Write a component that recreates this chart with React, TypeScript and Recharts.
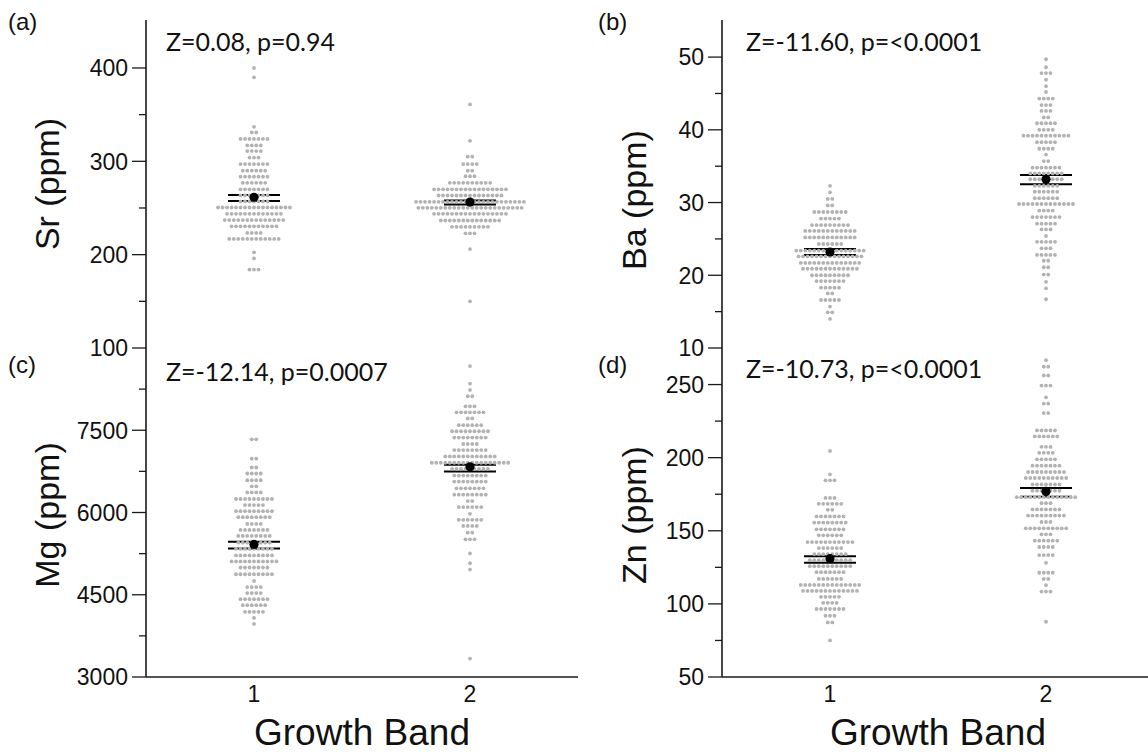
import React from 'react';
import { ScatterChart, Scatter, XAxis, YAxis, ErrorBar } from 'recharts';

// each row of the beeswarm: [value (ppm), number of samples in that bin]
type Row = [number, number];

const bands = [1, 2];

const srBand1: Row[] = [
  [400, 1], [390, 1], [337, 1], [331, 2], [324, 7], [317, 4], [311, 4], [304, 3], [297, 7], [290, 6],
  [283.5, 7], [277, 6], [270, 7], [263.5, 7], [257, 7], [250.5, 17], [243.7, 13], [237, 14], [230.4, 11],
  [223.3, 4], [216.9, 12], [202.5, 1], [196, 1], [184, 3],
];
const srBand2: Row[] = [
  [361, 1], [322, 1], [305, 2], [297, 4], [290, 2], [284, 3], [277, 10], [270, 17], [263.4, 15],
  [256.6, 25], [250.2, 24], [243.7, 17], [236.6, 14], [229.8, 9], [222.9, 3], [206, 1], [150, 1],
];
const srMeans = [261.5, 256.3];
const srErrors: [number, number][] = [[4, 2.5], [2.6, 1.7]];

const baBand1: Row[] = [
  [32.3, 1], [31.4, 1], [30.5, 2], [29.6, 2], [28.7, 8], [27.8, 5], [26.9, 9], [26.1, 12], [25.2, 12],
  [24.3, 6], [23.4, 16], [22.6, 15], [21.7, 14], [20.9, 13], [20.0, 9], [19.2, 7], [18.3, 5], [17.5, 2],
  [16.6, 5], [15.7, 1], [14.9, 2], [14.0, 1],
];
const baBand2: Row[] = [
  [49.7, 1], [48.6, 1], [47.8, 3], [46.9, 1], [46.0, 1], [45.2, 1], [44.3, 4], [43.4, 3], [42.6, 3],
  [41.7, 2], [40.9, 5], [40.0, 4], [39.2, 11], [38.3, 5], [37.4, 4], [36.6, 1], [35.7, 2], [34.8, 7],
  [34.0, 8], [33.2, 8], [32.3, 6], [31.5, 6], [30.6, 6], [29.8, 13], [28.9, 4], [28.0, 7], [27.1, 5],
  [26.3, 3], [25.4, 1], [24.6, 5], [23.7, 3], [22.8, 5], [22.0, 2], [21.1, 2], [20.1, 2], [19.1, 1],
  [18.2, 1], [16.7, 1],
];
const baMeans = [23.2, 33.2];
const baErrors: [number, number][] = [[0.4, 0.4], [0.7, 0.6]];

const mgBand1: Row[] = [
  [7335, 2], [6981, 2], [6821, 2], [6711, 4], [6588, 4], [6478, 2], [6367, 4], [6246, 9], [6136, 5],
  [6025, 9], [5915, 8], [5792, 4], [5682, 7], [5572, 8], [5449, 8], [5339, 9], [5217, 9], [5107, 11],
  [4997, 7], [4874, 9], [4751, 1], [4640, 4], [4530, 4], [4420, 7], [4310, 6], [4188, 5], [4078, 1],
  [3968, 1],
];
const mgBand2: Row[] = [
  [8671, 1], [8351, 1], [8235, 1], [8120, 2], [7936, 3], [7826, 7], [7716, 2], [7593, 6], [7482, 9],
  [7366, 8], [7249, 4], [7139, 8], [7023, 12], [6907, 18], [6797, 9], [6674, 8], [6564, 8], [6441, 7],
  [6325, 8], [6209, 2], [6099, 6], [5976, 1], [5866, 6], [5756, 4], [5632, 2], [5511, 3], [5254, 1],
  [5076, 1], [4960, 1], [3336, 1],
];
const mgMeans = [5418, 6833];
const mgErrors: [number, number][] = [[73, 49], [86, 37]];

const znBand1: Row[] = [
  [204.6, 1], [188.6, 1], [184.5, 3], [172.5, 3], [168.4, 6], [164.3, 2], [159.8, 7], [155.6, 8],
  [151.0, 7], [146.9, 6], [142.3, 11], [138.2, 6], [134.1, 8], [129.9, 10], [125.8, 10], [121.7, 7],
  [117.1, 6], [113.0, 14], [108.9, 13], [104.8, 5], [100.7, 4], [96.5, 7], [91.9, 3], [87.3, 2], [75.0, 1],
];
const znBand2: Row[] = [
  [266.7, 1], [262.2, 2], [256.2, 2], [249.3, 3], [241.3, 1], [237.0, 2], [230.5, 2], [218.6, 5],
  [214.5, 6], [207.4, 3], [203.3, 4], [198.9, 5], [194.5, 7], [190.2, 9], [186.1, 10], [181.7, 7],
  [177.4, 7], [173.0, 14], [168.9, 3], [164.6, 7], [160.4, 9], [156.0, 3], [151.7, 10], [147.6, 3],
  [143.2, 6], [138.9, 4], [133.4, 4], [128.1, 1], [121.3, 4], [117.1, 2], [112.8, 1], [108.4, 3], [87.8, 1],
];
const znMeans = [130.9, 176.9];
const znErrors: [number, number][] = [[2.7, 1.6], [3.7, 2.3]];

const FONT_AXIS = '"Liberation Sans", Arial, sans-serif';
const FONT_NOTE = 'Lato, "Open Sans", sans-serif';
const DOT_COLOR = '#b2b2b2';
const AXIS_COLOR = '#1a1a1a';
const FRAME_COLOR = '#e4e4e4';

const AXIS_W = 146;
const PLOT_W = 432;
const DOT_STEP = 0.0208; // horizontal spacing of swarm dots, in band units

function swarm(rows: Row[], band: number) {
  const pts: { x: number; y: number }[] = [];
  rows.forEach(([value, count]) => {
    for (let i = 0; i < count; i++) {
      pts.push({ x: band + (i - (count - 1) / 2) * DOT_STEP, y: value });
    }
  });
  return pts;
}

const makeYTick = (majors: number[]) => (props: any) => {
  const { x, y, payload } = props;
  const isMajor = majors.includes(payload.value);
  return (
    <g>
      <line x1={x - (isMajor ? 14 : 7)} y1={y} x2={x} y2={y} stroke={AXIS_COLOR} strokeWidth={1.3} />
      {isMajor && (
        <text x={x - 18} y={y} dy="0.36em" textAnchor="end" fontSize={23} fill="#111" fontFamily={FONT_AXIS}>
          {payload.value}
        </text>
      )}
    </g>
  );
};

interface PanelProps {
  band1: Row[];
  band2: Row[];
  means: number[];
  errors: [number, number][];
  domain: [number, number];
  majors: number[];
  minors: number[];
  left: number;
  top: number;
  plotTop: number;
  plotH: number;
  bottom: boolean;
}

const Panel: React.FC<PanelProps> = ({ band1, band2, means, errors, domain, majors, minors, left, top, plotTop, plotH, bottom }) => {
  const dots = [...swarm(band1, 1), ...swarm(band2, 2)];
  const meanData = bands.map((b, i) => ({ x: b, y: means[i], err: errors[i] }));
  const xAxisH = bottom ? 76 : 0;
  const spare = bottom ? 0 : 20; // room under the top panels so the lowest tick label is not clipped
  const ticks = [...majors, ...minors].sort((a, b) => a - b);

  return (
    <div style={{ position: 'absolute', left, top }}>
      <ScatterChart
        width={AXIS_W + PLOT_W + 2}
        height={plotTop + plotH + xAxisH + spare}
        margin={{ top: plotTop, right: 2, bottom: spare, left: 0 }}
      >
        <XAxis
          dataKey="x"
          type="number"
          domain={[0.5, 2.5]}
          ticks={bands}
          interval={0}
          height={xAxisH}
          tick={bottom ? { fontSize: 23, fill: '#111', fontFamily: FONT_AXIS } : false}
          tickLine={false}
          tickSize={0}
          tickMargin={9}
          axisLine={{ stroke: AXIS_COLOR, strokeWidth: 1.6 }}
          label={bottom ? { value: 'Growth Band', position: 'insideBottom', offset: 8, fontSize: 37, fill: '#111', fontFamily: FONT_AXIS } : undefined}
        />
        <YAxis
          dataKey="y"
          type="number"
          domain={domain}
          ticks={ticks}
          interval={0}
          width={AXIS_W}
          tickSize={0}
          tickMargin={0}
          tickLine={false}
          tick={makeYTick(majors)}
          axisLine={{ stroke: AXIS_COLOR, strokeWidth: 1.6 }}
        />
        {!bottom && (
          <XAxis xAxisId="frameTop" orientation="top" type="number" domain={[0, 1]} height={0} tick={false} tickLine={false} axisLine={{ stroke: FRAME_COLOR }} />
        )}
        <YAxis yAxisId="frameRight" orientation="right" type="number" domain={[0, 1]} width={0} tick={false} tickLine={false} axisLine={{ stroke: FRAME_COLOR }} />
        <Scatter
          data={dots}
          isAnimationActive={false}
          shape={(p: any) => <circle cx={p.cx} cy={p.cy} r={1.9} fill={DOT_COLOR} />}
        />
        <Scatter
          data={meanData}
          isAnimationActive={false}
          shape={(p: any) => <circle cx={p.cx} cy={p.cy} r={4.6} fill="#000" />}
        >
          <ErrorBar dataKey="err" direction="y" width={26} stroke="#000" strokeWidth={2} isAnimationActive={false} />
        </Scatter>
      </ScatterChart>
    </div>
  );
};

const yTitle = (label: string, x: number, y: number) => (
  <text x={x} y={y} transform={`rotate(-90 ${x} ${y})`} textAnchor="middle" dominantBaseline="central" fontSize={34} fill="#111" fontFamily={FONT_AXIS}>
    {label}
  </text>
);

export default function App() {
  return (
    <div style={{ position: 'absolute', left: 0, top: 0, width: 1148, height: 755, overflow: 'hidden', background: '#fff' }}>
      <Panel band1={srBand1} band2={srBand2} means={srMeans} errors={srErrors} domain={[100, 451.4]}
        majors={[100, 200, 300, 400]} minors={[150, 250, 350]} left={0} top={0} plotTop={20} plotH={328} bottom={false} />
      <Panel band1={baBand1} band2={baBand2} means={baMeans} errors={baErrors} domain={[10, 55.1]}
        majors={[10, 20, 30, 40, 50]} minors={[15, 25, 35, 45]} left={576} top={0} plotTop={20} plotH={328} bottom={false} />
      <Panel band1={mgBand1} band2={mgBand2} means={mgMeans} errors={mgErrors} domain={[3000, 9000]}
        majors={[3000, 4500, 6000, 7500]} minors={[3750, 5250, 6750, 8250]} left={0} top={348} plotTop={0} plotH={329} bottom />
      <Panel band1={znBand1} band2={znBand2} means={znMeans} errors={znErrors} domain={[50, 275]}
        majors={[50, 100, 150, 200, 250]} minors={[75, 125, 175, 225]} left={576} top={348} plotTop={0} plotH={329} bottom />

      <svg width={1148} height={755} style={{ position: 'absolute', left: 0, top: 0, pointerEvents: 'none' }}>
        <g fontFamily={FONT_AXIS} fontSize={24} fill="#111">
          <text x={8} y={30}>(a)</text>
          <text x={598} y={30}>(b)</text>
          <text x={8} y={373}>(c)</text>
          <text x={598} y={373}>(d)</text>
        </g>
        <g fontFamily={FONT_NOTE} fontSize={25} fill="#111">
          <text x={166} y={51}>Z=0.08, p=0.94</text>
          <text x={746} y={51}>Z=-11.60, p=&lt;0.0001</text>
          <text x={166} y={381}>Z=-12.14, p=0.0007</text>
          <text x={746} y={378}>Z=-10.73, p=&lt;0.0001</text>
        </g>
        {yTitle('Sr (ppm)', 47, 184)}
        {yTitle('Ba (ppm)', 634, 200)}
        {yTitle('Mg (ppm)', 47, 515)}
        {yTitle('Zn (ppm)', 634, 515)}
      </svg>
    </div>
  );
}
